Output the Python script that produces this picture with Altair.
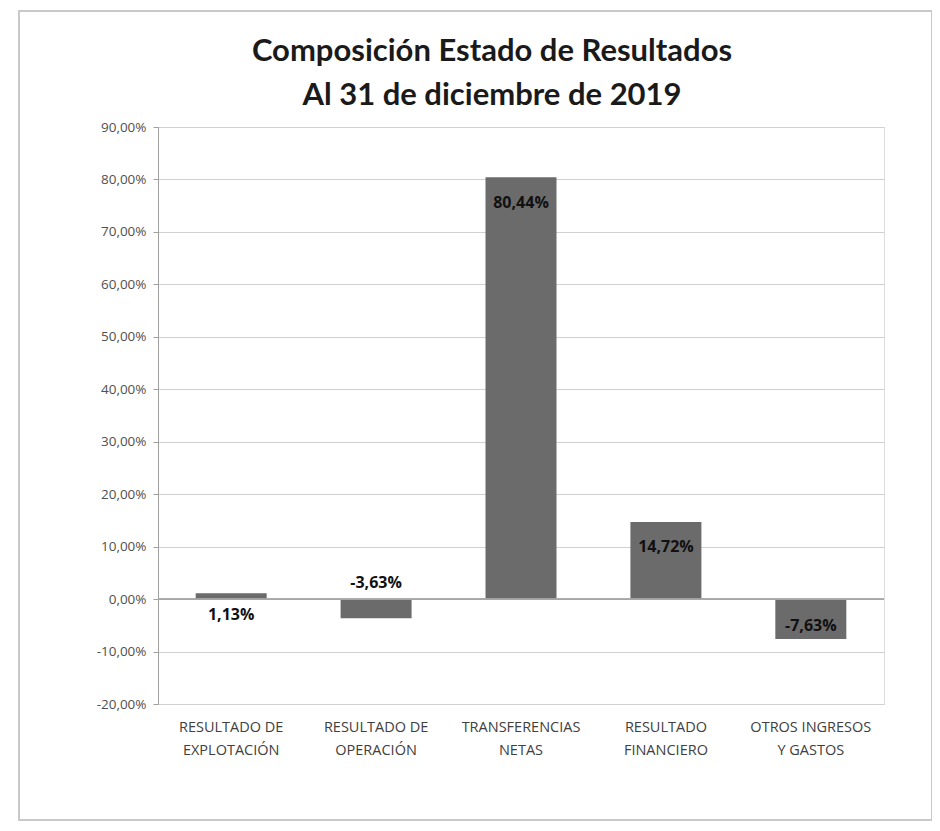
import altair as alt
import pandas as pd

title_lines = ["Composición Estado de Resultados", "Al 31 de diciembre de 2019"]
categories = ["RESULTADO DE EXPLOTACIÓN", "RESULTADO DE OPERACIÓN", "TRANSFERENCIAS NETAS",
              "RESULTADO FINANCIERO", "OTROS INGRESOS Y GASTOS"]
label_lines = [["RESULTADO DE", "EXPLOTACIÓN"], ["RESULTADO DE", "OPERACIÓN"],
               ["TRANSFERENCIAS", "NETAS"], ["RESULTADO", "FINANCIERO"], ["OTROS INGRESOS", "Y GASTOS"]]
values = [1.13, -3.63, 80.44, 14.72, -7.63]
y_ticks = [90, 80, 70, 60, 50, 40, 30, 20, 10, 0, -10, -20]

df = pd.DataFrame({"cat": categories, "v": values})

W, H = 726, 577

lab_map = {c: "|".join(l) for c, l in zip(categories, label_lines)}
expr = "{" + ",".join(f"'{c}':'{s}'" for c, s in lab_map.items()) + "}"
xenc = alt.X("cat:N", sort=categories, title=None,
             scale=alt.Scale(paddingInner=0.51, paddingOuter=0.26),
             axis=alt.Axis(labelExpr=f"split({expr}[datum.label], '|')", labelAngle=0,
                           labelFont="Open Sans", labelFontSize=14.5, labelColor="#404040",
                           labelPadding=16, ticks=False, domain=False, labelLineHeight=23))

yscale = alt.Scale(domain=[-20, 90], nice=False, zero=False)
fmt = "replace(replace(format({v}, '.2f'), '.', ','), '\u2212', '-') + '%'"

base = alt.Chart(df)

bars = base.mark_bar(color="#6b6b6b").encode(
    x=xenc,
    y=alt.Y("v:Q", scale=yscale, title=None,
            axis=alt.Axis(values=y_ticks, grid=True, gridColor="#d0d0d0", gridWidth=1,
                          labelExpr=fmt.format(v="datum.value"),
                          labelFont="Open Sans", labelFontSize=13.5, labelColor="#505050",
                          labelPadding=7, domainColor="#a0a0a0", tickColor="#a0a0a0", tickSize=5)),
    y2=alt.datum(0),
)

zero = base.mark_rule(color="#a8a8a8", strokeWidth=1).encode(
    y=alt.datum(0, scale=yscale), x=alt.value(0), x2=alt.value(W))

labels = base.transform_calculate(
    ly="abs(datum.v) < 5 ? -3 * (datum.v > 0 ? 1 : -1) : datum.v - (datum.v > 0 ? 1 : -1) * min(5, abs(datum.v) * 0.33)",
    txt=fmt.format(v="datum.v")
).mark_text(font="Open Sans", fontSize=16, fontWeight="bold", color="#111111", baseline="middle").encode(
    x=alt.X("cat:N", sort=categories),
    y=alt.Y("ly:Q", scale=yscale),
    text="txt:N",
)

frame = base.mark_rect(fill=None, stroke="#c8c8c8", strokeWidth=1.2).encode(
    x=alt.value(-139), x2=alt.value(W + 48), y=alt.value(-116), y2=alt.value(H + 116))

title1 = alt.Chart(pd.DataFrame({"t": [title_lines[0]]})).mark_text(
    font="Lato", fontSize=31, fontWeight="bold", color="#1a1a1a", baseline="middle", align="center"
).encode(text="t:N", x=alt.value(334), y=alt.value(-75))
title2 = alt.Chart(pd.DataFrame({"t": [title_lines[1]]})).mark_text(
    font="Lato", fontSize=31, fontWeight="bold", color="#1a1a1a", baseline="middle", align="center"
).encode(text="t:N", x=alt.value(334), y=alt.value(-31))

chart = alt.layer(frame, bars, zero, labels, title1, title2).properties(
    width=W, height=H,
    padding={"left": 150, "top": 119, "right": 48, "bottom": 118},
    autosize=alt.AutoSizeParams(type="none"),
).configure_view(stroke=None).configure(background="white")

chart.save("out.html", embed_options={"renderer": "svg", "actions": False})
